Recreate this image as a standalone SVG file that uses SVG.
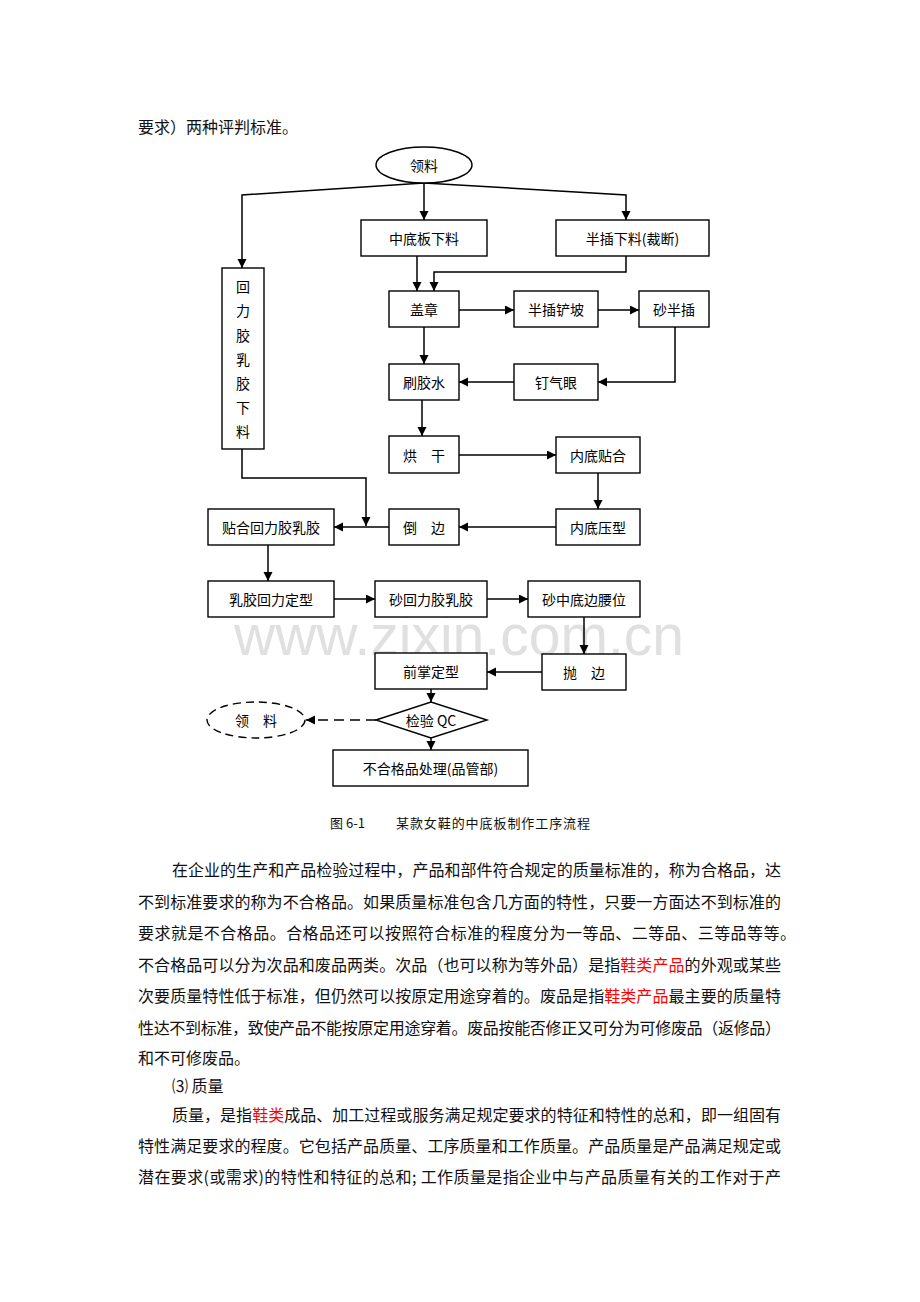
<svg xmlns="http://www.w3.org/2000/svg" width="920" height="1302" viewBox="0 0 920 1302">
<style>
.bx{fill:#fff;stroke:#000;stroke-width:1.4}
.t{font-family:"Noto Sans CJK SC","Liberation Serif",sans-serif;font-size:14px;fill:#000;text-anchor:middle;dominant-baseline:central}
.c{fill:none;stroke:#000;stroke-width:1.5}
.p{font-family:"Noto Sans CJK SC",sans-serif;font-size:16px;fill:#111;dominant-baseline:central}
.r{fill:#ff0000}
.cap{font-family:"Noto Sans CJK SC",sans-serif;font-size:13px;fill:#111;dominant-baseline:central}
</style>
<defs>
<marker id="ah" markerUnits="userSpaceOnUse" markerWidth="10" markerHeight="10" refX="9" refY="4.5" orient="auto">
<path d="M0,0 L9,4.5 L0,9 z" fill="#000"/>
</marker>
</defs>
<rect width="920" height="1302" fill="#fff"/>
<text x="138" y="126" class="p">要求）两种评判标准。</text>
<text x="234" y="655" font-family="Liberation Sans,Arial,sans-serif" font-size="58" fill="#e0e0e0" textLength="450" lengthAdjust="spacingAndGlyphs">www.zixin.com.cn</text>
<g id="connectors">
<path class="c" d="M424,183 L242,195 L242,268" marker-end="url(#ah)"/>
<path class="c" d="M424,183 L424,220" marker-end="url(#ah)"/>
<path class="c" d="M424,183 L626,195 L626,220" marker-end="url(#ah)"/>
<path class="c" d="M417,256 L417,291" marker-end="url(#ah)"/>
<path class="c" d="M626,256 L626,272 L434,272 L434,291" marker-end="url(#ah)"/>
<path class="c" d="M459,310 L514,310" marker-end="url(#ah)"/>
<path class="c" d="M598,310 L639,310" marker-end="url(#ah)"/>
<path class="c" d="M675,327 L675,382 L598,382" marker-end="url(#ah)"/>
<path class="c" d="M514,382 L459,382" marker-end="url(#ah)"/>
<path class="c" d="M424,327 L424,364" marker-end="url(#ah)"/>
<path class="c" d="M422,400 L422,436" marker-end="url(#ah)"/>
<path class="c" d="M459,455 L556,455" marker-end="url(#ah)"/>
<path class="c" d="M598,473 L598,509" marker-end="url(#ah)"/>
<path class="c" d="M556,527 L459,527" marker-end="url(#ah)"/>
<path class="c" d="M389,527 L334,527" marker-end="url(#ah)"/>
<path class="c" d="M242,449 L242,478 L366,478 L366,526" marker-end="url(#ah)"/>
<path class="c" d="M268,545 L268,581" marker-end="url(#ah)"/>
<path class="c" d="M334,599 L375,599" marker-end="url(#ah)"/>
<path class="c" d="M487,599 L528,599" marker-end="url(#ah)"/>
<path class="c" d="M584,617 L584,654" marker-end="url(#ah)"/>
<path class="c" d="M542,672 L487,672" marker-end="url(#ah)"/>
<path class="c" d="M431,689 L431,702" marker-end="url(#ah)"/>
<path class="c" d="M376,720 L306,720" stroke-dasharray="10,6" marker-end="url(#ah)"/>
<path class="c" d="M431,738 L431,750" marker-end="url(#ah)"/>
</g>
<g id="n_start"><ellipse class="bx" cx="424" cy="165" rx="48" ry="18"/><text class="t" x="424" y="165">领料</text></g>
<g id="n_zdb"><rect class="bx" x="361" y="220" width="126" height="36"/><text class="t" x="424" y="238">中底板下料</text></g>
<g id="n_bcxl"><rect class="bx" x="556" y="220" width="153" height="36"/><text class="t" x="632.5" y="238">半插下料(裁断)</text></g>
<g id="n_hlj"><rect class="bx" x="222" y="268" width="42" height="181"/>
<text class="t" x="243" y="286">回</text><text class="t" x="243" y="310">力</text><text class="t" x="243" y="335">胶</text><text class="t" x="243" y="359">乳</text><text class="t" x="243" y="383">胶</text><text class="t" x="243" y="407">下</text><text class="t" x="243" y="431">料</text></g>
<g id="n_gz"><rect class="bx" x="389" y="291" width="70" height="36"/><text class="t" x="424" y="309">盖章</text></g>
<g id="n_bccp"><rect class="bx" x="514" y="291" width="84" height="36"/><text class="t" x="556" y="309">半插铲坡</text></g>
<g id="n_sbc"><rect class="bx" x="639" y="291" width="70" height="36"/><text class="t" x="674" y="309">砂半插</text></g>
<g id="n_sjs"><rect class="bx" x="389" y="364" width="70" height="36"/><text class="t" x="424" y="382">刷胶水</text></g>
<g id="n_dqy"><rect class="bx" x="514" y="364" width="84" height="36"/><text class="t" x="556" y="382">钉气眼</text></g>
<g id="n_hg"><rect class="bx" x="389" y="436" width="70" height="37"/><text class="t" x="424" y="455">烘　干</text></g>
<g id="n_ndth"><rect class="bx" x="556" y="437" width="84" height="36"/><text class="t" x="598" y="455">内底贴合</text></g>
<g id="n_thhl"><rect class="bx" x="208" y="509" width="126" height="36"/><text class="t" x="271" y="527">贴合回力胶乳胶</text></g>
<g id="n_db"><rect class="bx" x="389" y="509" width="70" height="36"/><text class="t" x="424" y="527">倒　边</text></g>
<g id="n_ndyx"><rect class="bx" x="556" y="509" width="84" height="36"/><text class="t" x="598" y="527">内底压型</text></g>
<g id="n_rjdx"><rect class="bx" x="208" y="581" width="126" height="36"/><text class="t" x="271" y="599">乳胶回力定型</text></g>
<g id="n_shl"><rect class="bx" x="375" y="581" width="112" height="36"/><text class="t" x="431" y="599">砂回力胶乳胶</text></g>
<g id="n_szd"><rect class="bx" x="528" y="581" width="112" height="36"/><text class="t" x="584" y="599">砂中底边腰位</text></g>
<g id="n_qz"><rect class="bx" x="375" y="653" width="112" height="36"/><text class="t" x="431" y="671">前掌定型</text></g>
<g id="n_pb"><rect class="bx" x="542" y="654" width="84" height="36"/><text class="t" x="584" y="672">抛　边</text></g>
<g id="n_qc"><polygon class="bx" points="376,720 431,702 487,720 431,738"/><text class="t" x="431" y="720">检验 QC</text></g>
<g id="n_ll2"><ellipse class="bx" cx="256" cy="720" rx="49" ry="18" stroke-dasharray="8,5"/><text class="t" x="256" y="720">领　料</text></g>
<g id="n_bhg"><rect class="bx" x="333" y="750" width="195" height="36"/><text class="t" x="430.5" y="768">不合格品处理(品管部)</text></g>
<text class="cap" x="330" y="822">图 6-1</text>
<text class="cap" x="396" y="822" textLength="194">某款女鞋的中底板制作工序流程</text>
<g id="para">
<text class="p" x="172" y="869" textLength="609">在企业的生产和产品检验过程中，产品和部件符合规定的质量标准的，称为合格品，达</text>
<text class="p" x="138" y="900.5" textLength="643">不到标准要求的称为不合格品。如果质量标准包含几方面的特性，只要一方面达不到标准的</text>
<text class="p" x="138" y="932" textLength="658">要求就是不合格品。合格品还可以按照符合标准的程度分为一等品、二等品、三等品等等。</text>
<text class="p" x="138" y="963.5" textLength="643">不合格品可以分为次品和废品两类。次品（也可以称为等外品）是指<tspan class="r">鞋类产品</tspan>的外观或某些</text>
<text class="p" x="138" y="995" textLength="643">次要质量特性低于标准，但仍然可以按原定用途穿着的。废品是指<tspan class="r">鞋类产品</tspan>最主要的质量特</text>
<text class="p" x="138" y="1026.5" textLength="643">性达不到标准，致使产品不能按原定用途穿着。废品按能否修正又可分为可修废品（返修品）</text>
<text class="p" x="138" y="1057">和不可修废品。</text>
<text class="p" x="172" y="1085">⑶ 质量</text>
<text class="p" x="172" y="1114" textLength="609">质量，是指<tspan class="r">鞋类</tspan>成品、加工过程或服务满足规定要求的特征和特性的总和，即一组固有</text>
<text class="p" x="138" y="1145" textLength="643">特性满足要求的程度。它包括产品质量、工序质量和工作质量。产品质量是产品满足规定或</text>
<text class="p" x="138" y="1176" textLength="643">潜在要求(或需求)的特性和特征的总和; 工作质量是指企业中与产品质量有关的工作对于产</text>
</g>
</svg>
